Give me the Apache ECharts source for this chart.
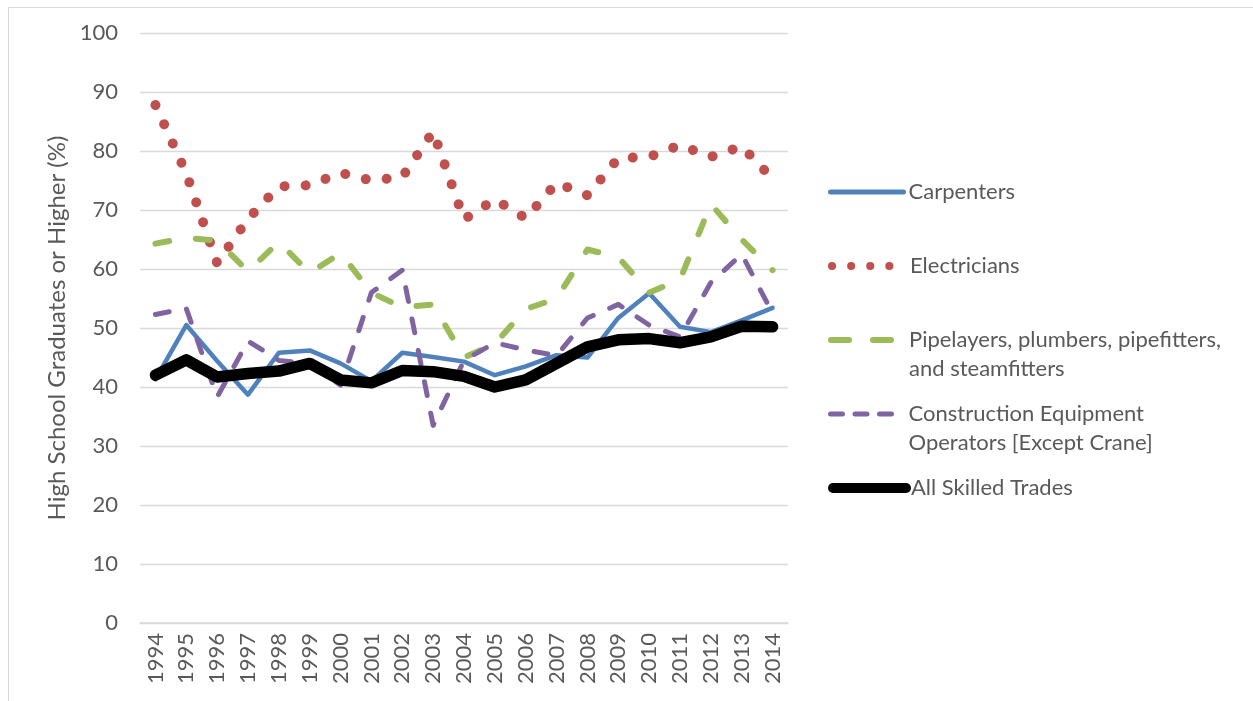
<!DOCTYPE html>
<html>
<head>
<meta charset="utf-8">
<title>High School Graduates or Higher</title>
<script src="https://cdn.jsdelivr.net/npm/echarts@6/dist/echarts.min.js"></script>
<style>
  html, body { margin: 0; padding: 0; background: #fff; }
  #chart { width: 1253px; height: 701px; }
</style>
</head>
<body>
<div id="chart"></div>
<script>
// data
var years = ["1994", "1995", "1996", "1997", "1998", "1999", "2000", "2001", "2002", "2003", "2004",
  "2005", "2006", "2007", "2008", "2009", "2010", "2011", "2012", "2013", "2014"];
var carpenters = [41.3, 50.5, 44.4, 38.7, 45.8, 46.2, 44.0, 41.0, 45.8, 45.1, 44.3,
  42.0, 43.5, 45.4, 45.0, 51.7, 55.9, 50.2, 49.3, 51.3, 53.4];
var electricians = [87.8, 76.2, 61.0, 68.5, 74.0, 74.2, 76.3, 75.0, 75.6, 83.3, 68.4,
  71.8, 68.6, 74.6, 72.5, 78.8, 79.0, 81.0, 79.0, 80.8, 75.3];
var pipelayers = [64.3, 65.3, 64.8, 59.6, 64.6, 59.3, 62.7, 56.0, 53.5, 54.0, 45.0,
  47.3, 53.2, 55.0, 63.3, 62.0, 56.0, 58.2, 71.0, 65.0, 59.8];
var equipment = [52.3, 53.3, 38.3, 47.8, 44.5, 44.0, 40.3, 56.0, 59.8, 33.5, 44.5,
  47.5, 46.3, 45.3, 51.7, 54.0, 50.5, 48.5, 57.7, 62.5, 52.5];
var allTrades = [42.0, 44.6, 41.7, 42.3, 42.7, 44.0, 41.2, 40.7, 42.8, 42.6, 41.8,
  40.0, 41.2, 44.0, 46.8, 48.0, 48.2, 47.5, 48.5, 50.3, 50.2];
var yTicks = { min: 0, max: 100, interval: 10 };

var FONT = "Lato";
var TXT = "#595959";
var GRIDC = "#d9d9d9";

var styles = [
  { name: "Carpenters", data: carpenters, color: "#4f81bd", width: 4.5, type: "solid", lw: 5, ltype: "solid", y: 192 },
  { name: "Electricians", data: electricians, color: "#c0504d", width: 10, type: [0.1, 21], lw: 8, ltype: [0.1, 19], y: 266 },
  { name: "Pipelayers, plumbers, pipefitters, and steamfitters", data: pipelayers, color: "#9bbb59", width: 6, type: [14, 27], lw: 6, ltype: [18, 24], y: 340, label: "Pipelayers, plumbers, pipefitters,\nand steamfitters" },
  { name: "Construction Equipment Operators [Except Crane]", data: equipment, color: "#8064a2", width: 5, type: [14, 18], lw: 5, ltype: [12, 12.5], y: 414, label: "Construction Equipment\nOperators [Except Crane]" },
  { name: "All Skilled Trades", data: allTrades, color: "#000000", width: 11.5, type: "solid", lw: 10, ltype: "solid", y: 488 }
];

var series = styles.map(function (s) {
  return {
    name: s.name,
    type: "line",
    data: s.data,
    symbol: "none",
    animation: false,
    itemStyle: { color: s.color },
    lineStyle: { color: s.color, width: s.width, type: s.type, cap: "round", join: "round" }
  };
});

// one legend per item so each row sits where it does in the picture
var legends = styles.map(function (s) {
  var twoLines = !!s.label;
  return {
    data: [s.name],
    left: 828,
    top: twoLines ? s.y - 43.5 : s.y - 14.5,
    orient: "vertical",
    padding: 0,
    itemWidth: 73,
    itemHeight: 14,
    selectedMode: false,
    // leading blank line keeps the icon level with the first text line
    formatter: function () { return twoLines ? "\n" + s.label : s.name; },
    itemStyle: { opacity: 0 },
    lineStyle: { width: s.lw, type: s.ltype, cap: "round", color: s.color },
    textStyle: { fontFamily: FONT, fontSize: 22, color: TXT, lineHeight: 29 }
  };
});

var chart = echarts.init(document.getElementById("chart"));
chart.setOption({
  backgroundColor: "#fff",
  animation: false,
  graphic: [{
    type: "rect", left: 6, top: 5, silent: true,
    shape: { width: 1400, height: 800 },
    style: { fill: "none", stroke: GRIDC, lineWidth: 1 }
  }],
  grid: { left: 140, right: 465, top: 33, bottom: 78, containLabel: false },
  legend: legends,
  xAxis: {
    type: "category",
    data: years,
    boundaryGap: true,
    axisLine: { lineStyle: { color: GRIDC, width: 1.5 } },
    axisTick: { show: false },
    axisLabel: { rotate: 90, interval: 0, margin: 10, fontFamily: FONT, fontSize: 22, color: TXT }
  },
  yAxis: {
    type: "value",
    min: yTicks.min,
    max: yTicks.max,
    interval: yTicks.interval,
    name: "High School Graduates or Higher (%)",
    nameLocation: "middle",
    nameGap: 70,
    nameTextStyle: { fontFamily: FONT, fontSize: 24, color: TXT },
    axisLine: { show: false },
    axisTick: { show: false },
    splitLine: { lineStyle: { color: GRIDC, width: 1.3 } },
    axisLabel: { margin: 22, fontFamily: FONT, fontSize: 22, color: TXT }
  },
  series: series
});
</script>
</body>
</html>
